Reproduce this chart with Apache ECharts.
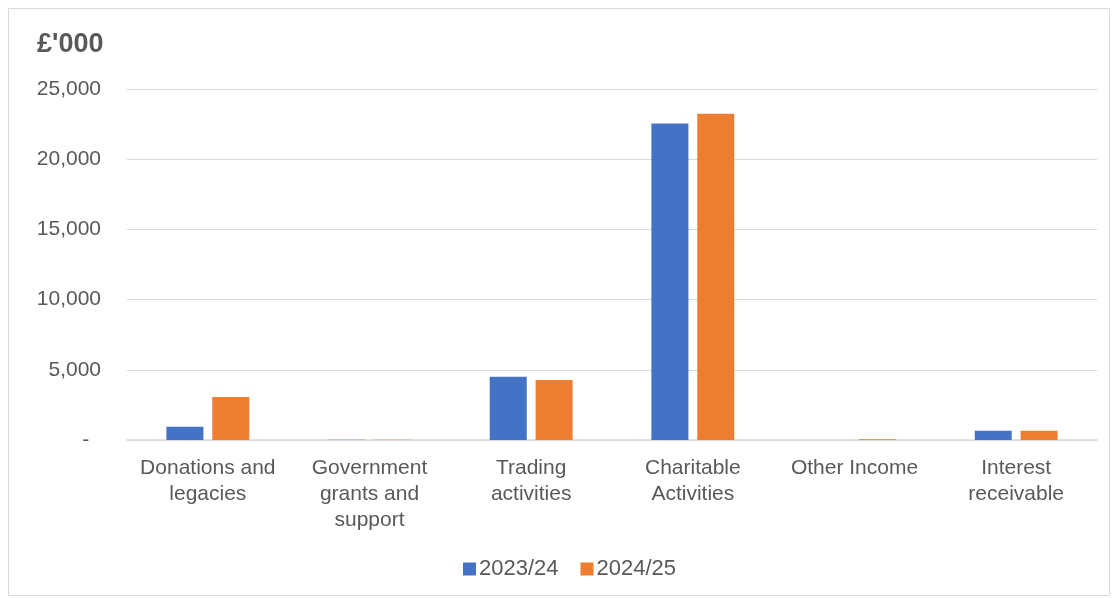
<!DOCTYPE html>
<html><head><meta charset="utf-8">
<script src="https://cdn.jsdelivr.net/npm/echarts@6/dist/echarts.min.js"></script>
<style>html,body{margin:0;padding:0;background:#fff}#c{width:1112px;height:598px}</style>
</head><body><div id="c"></div>
<script>
const categories = ['Donations and\nlegacies','Government\ngrants and\nsupport','Trading\nactivities','Charitable\nActivities','Other Income','Interest\nreceivable'];
const series2324 = [950, 15, 4500, 22550, 5, 650];
const series2425 = [3060, 20, 4280, 23230, 60, 660];
const yTicks = [0, 5000, 10000, 15000, 20000, 25000];
const seriesNames = ['2023/24','2024/25'];

const chart = echarts.init(document.getElementById('c'));
const txt = '#595959';
const ff = 'Arial, "Liberation Sans"';
chart.setOption({
  animation:false,
  graphic:[{type:'rect',shape:{x:8.5,y:8.5,width:1101,height:587},style:{fill:'none',stroke:'#d9d9d9',lineWidth:1}},
    {type:'text',left:37,top:31,style:{text:"£'000",font:'bold 27px Arial, "Liberation Sans"',fill:txt}}],
  grid:{left:127,right:15,top:89,bottom:158},
  legend:{bottom:13,left:458,itemWidth:13,itemHeight:13,itemGap:22,icon:'rect',
    textStyle:{fontSize:22,color:txt,fontFamily:ff,padding:[0,0,0,-2]}},
  xAxis:{type:'category',data:categories,
    axisLine:{lineStyle:{color:'#d9d9d9',width:1.5}},axisTick:{show:false},
    axisLabel:{color:txt,fontSize:21,fontFamily:ff,lineHeight:26,margin:15,interval:0}},
  yAxis:{type:'value',min:0,max:25000,interval:5000,
    axisLine:{show:false},axisTick:{show:false},
    splitLine:{lineStyle:{color:'#d9d9d9',width:1}},
    axisLabel:{color:txt,fontSize:21,fontFamily:ff,margin:26,
      formatter:v=>yTicks.includes(v)?(v===0?'-  ':v.toLocaleString('en-GB')):''}},
  series:[
    {name:seriesNames[0],type:'bar',data:series2324,barWidth:37,barGap:'24%',itemStyle:{color:'#4472c4'}},
    {name:seriesNames[1],type:'bar',data:series2425,barWidth:37,itemStyle:{color:'#ed7d31'}}
  ]
});
</script></body></html>
